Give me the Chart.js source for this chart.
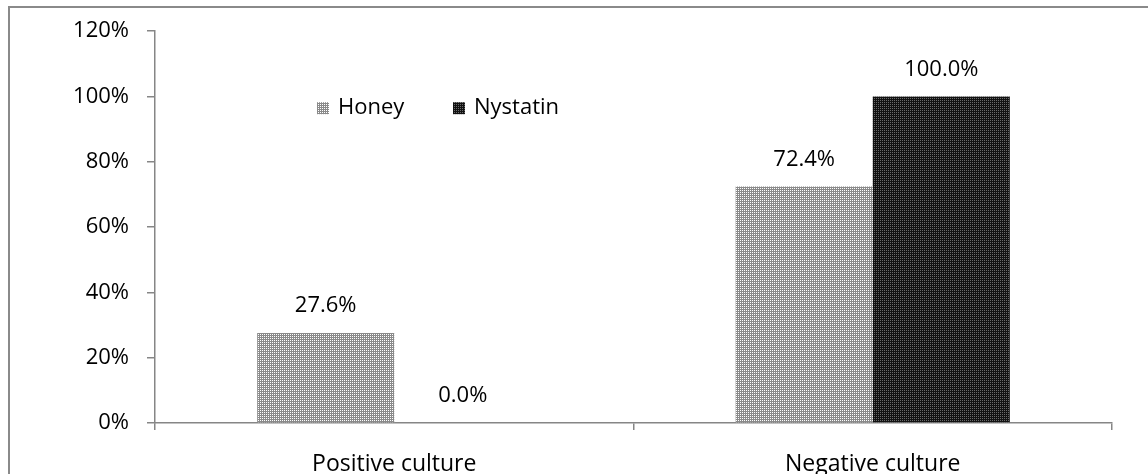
<!DOCTYPE html>
<html>
<head>
<meta charset="utf-8">
<script src="https://cdn.jsdelivr.net/npm/chart.js@4/dist/chart.umd.min.js"></script>
<style>
  html, body { margin: 0; padding: 0; background: #fff; }
  #wrap { position: relative; width: 1148px; height: 474px; overflow: hidden; }
  #frame {
    position: absolute; left: 8px; top: 6px; width: 1160px; height: 466px;
    border-left: 2px solid #8a8a8a; border-top: 2px solid #8a8a8a;
    border-bottom: 1px solid #d9d9d9; pointer-events: none;
  }
  canvas { position: absolute; left: 0; top: 0; }
</style>
</head>
<body>
<div id="wrap">
  <canvas id="chart" width="1148" height="474"></canvas>
  <div id="frame"></div>
</div>
<script>
// Outcome categories and treatment results (percent of patients)
const categories = ['Positive culture', 'Negative culture'];
const seriesNames = ['Honey', 'Nystatin'];
const honeyValues = [27.6, 72.4];
const nystatinValues = [0.0, 100.0];
const yTicks = [0, 20, 40, 60, 80, 100, 120];

const FONT = '"Open Sans", sans-serif';
const FONT_SIZE = 22;
const AXIS_COLOR = '#868686';

// Fine dotted fills for the bars
function dotPattern(base, dot) {
  const c = document.createElement('canvas');
  c.width = 4; c.height = 4;
  const g = c.getContext('2d');
  g.fillStyle = base;
  g.fillRect(0, 0, 4, 4);
  g.fillStyle = dot;
  g.fillRect(0, 0, 1, 1);
  g.fillRect(2, 0, 1, 1);
  g.fillRect(0, 2, 1, 1);
  g.fillRect(2, 2, 1, 1);
  return g.createPattern(c, 'repeat');
}
const ctx = document.getElementById('chart').getContext('2d');
const honeyFill = dotPattern('#8a8a8a', '#ffffff');
const nystatinFill = dotPattern('#121212', '#6a6a6a');
const fills = [honeyFill, nystatinFill];

// Value labels above each bar
const valueLabels = {
  id: 'valueLabels',
  afterDatasetsDraw(chart) {
    const c = chart.ctx;
    c.save();
    c.font = FONT_SIZE + 'px ' + FONT;
    c.fillStyle = '#000';
    c.textAlign = 'center';
    c.textBaseline = 'alphabetic';
    chart.data.datasets.forEach((ds, i) => {
      chart.getDatasetMeta(i).data.forEach((bar, j) => {
        c.fillText(ds.data[j].toFixed(1) + '%', bar.x, bar.y - 21);
      });
    });
    c.restore();
  }
};

// Legend placed inside the plot area
const innerLegend = {
  id: 'innerLegend',
  afterDraw(chart) {
    const c = chart.ctx;
    const a = chart.chartArea;
    const y = a.top + 77;
    const items = [
      { x: a.left + 162, label: seriesNames[0], fill: fills[0] },
      { x: a.left + 298, label: seriesNames[1], fill: fills[1] }
    ];
    c.save();
    c.font = FONT_SIZE + 'px ' + FONT;
    c.textBaseline = 'middle';
    c.textAlign = 'left';
    items.forEach(it => {
      c.fillStyle = it.fill;
      c.fillRect(it.x, y - 6, 12, 12);
      c.fillStyle = '#000';
      c.fillText(it.label, it.x + 21, y);
    });
    c.restore();
  }
};

new Chart(ctx, {
  type: 'bar',
  data: {
    labels: categories,
    datasets: [
      { label: seriesNames[0], data: honeyValues, backgroundColor: honeyFill },
      { label: seriesNames[1], data: nystatinValues, backgroundColor: nystatinFill }
    ]
  },
  options: {
    responsive: false,
    animation: false,
    layout: { padding: { left: 0, right: 36, top: 31, bottom: 0 } },
    datasets: { bar: { categoryPercentage: 0.573, barPercentage: 1.0 } },
    plugins: {
      legend: { display: false },
      tooltip: { enabled: false }
    },
    scales: {
      x: {
        afterFit(s) { s.height = 51; },
        border: { display: true, color: AXIS_COLOR, width: 1.5 },
        grid: { drawOnChartArea: false, drawTicks: true, tickLength: 7, color: AXIS_COLOR, lineWidth: 1.5 },
        ticks: { color: '#000', font: { family: FONT, size: 23 }, padding: 21 }
      },
      y: {
        min: 0, max: 120,
        afterFit(s) { s.width = 155; },
        afterBuildTicks(s) { s.ticks = yTicks.map(v => ({ value: v })); },
        border: { display: true, color: AXIS_COLOR, width: 1.5 },
        grid: { drawOnChartArea: false, drawTicks: true, tickLength: 8, color: AXIS_COLOR, lineWidth: 1.5 },
        ticks: {
          color: '#000', font: { family: FONT, size: FONT_SIZE }, padding: 18,
          callback: v => v + '%'
        }
      }
    }
  },
  plugins: [valueLabels, innerLegend]
});
</script>
</body>
</html>
